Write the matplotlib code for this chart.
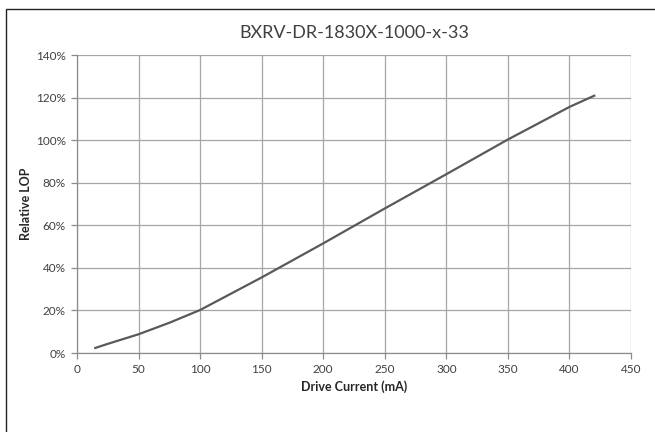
import matplotlib
matplotlib.use("Agg")
from matplotlib import pyplot as plt
from matplotlib.patches import Rectangle
from matplotlib.ticker import FuncFormatter

# Data
drive_current = [14, 25, 50, 75, 100, 150, 200, 250, 300, 350, 400, 421]
relative_lop = [2.2, 4.3, 8.8, 14.2, 20.2, 35.5, 51.5, 67.9, 84.0, 100.3, 115.6, 121.1]
x_ticks = [0, 50, 100, 150, 200, 250, 300, 350, 400, 450]
y_ticks = [0, 20, 40, 60, 80, 100, 120, 140]

plt.rcParams['font.family'] = ['Lato', 'DejaVu Sans']

fig = plt.figure(figsize=(6.55, 4.32), dpi=100)
ax = fig.add_axes([77/655, 1-353/432, (631-77)/655, (353-55)/432])

# outer frame (only left and top edges show in the reference)
fig.patches.append(Rectangle((6/655, -0.5), 2.0, 1.5-9/432,
                             transform=fig.transFigure, fill=False,
                             edgecolor='#222222', linewidth=1.0))

ax.plot(drive_current, relative_lop, color='#595959', linewidth=1.6,
        solid_capstyle='butt')

ax.set_xlim(0, 450)
ax.set_ylim(0, 140)
ax.set_xticks(x_ticks)
ax.set_yticks(y_ticks)
ax.yaxis.set_major_formatter(FuncFormatter(lambda v, p: f"{v:.0f}%"))
ax.grid(True, color='#a6a6a6', linewidth=0.9)
ax.set_axisbelow(True)

for side in ['top', 'right']:
    ax.spines[side].set_visible(False)
for side in ['left', 'bottom']:
    ax.spines[side].set_color('#8c8c8c')
    ax.spines[side].set_linewidth(0.9)

ax.tick_params(axis='both', colors='#8c8c8c', length=4, width=0.9,
               labelsize=8.5, labelcolor='#404040', pad=4)

ax.set_xlabel("Drive Current (mA)", fontsize=9, fontweight='bold',
              color='#262626', labelpad=4)
ax.set_ylabel("Relative LOP", fontsize=9, fontweight='bold',
              color='#262626', labelpad=3)
ax.set_title("BXRV-DR-1830X-1000-x-33", fontsize=13, fontweight='normal',
             color='#404040', pad=12)

fig.savefig("out.png", dpi=100)
